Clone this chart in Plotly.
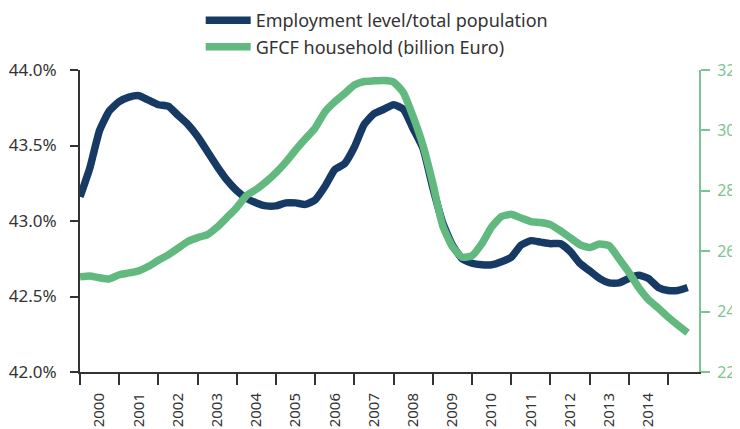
import plotly.graph_objects as go

# quarterly periods, 2000Q1 .. 2015Q3
start_year = 2000
n_quarters = 63
periods = [start_year + i * 0.25 for i in range(n_quarters)]

employment = [
    43.16, 43.35, 43.60, 43.73, 43.79, 43.82, 43.83, 43.80,
    43.77, 43.76, 43.70, 43.64, 43.56, 43.46, 43.36, 43.27,
    43.20, 43.15, 43.12, 43.10, 43.10, 43.12, 43.12, 43.11,
    43.14, 43.23, 43.34, 43.38, 43.49, 43.64, 43.71, 43.74,
    43.77, 43.74, 43.61, 43.48, 43.22, 42.99, 42.84, 42.75,
    42.72, 42.71, 42.71, 42.73, 42.76, 42.84, 42.87, 42.86,
    42.85, 42.85, 42.80, 42.72, 42.67, 42.62, 42.59, 42.59,
    42.62, 42.64, 42.62, 42.56, 42.54, 42.54, 42.56,
]

gfcf = [
    25.15, 25.18, 25.12, 25.08, 25.22, 25.28, 25.35, 25.50,
    25.70, 25.88, 26.10, 26.32, 26.45, 26.55, 26.80, 27.12,
    27.45, 27.85, 28.05, 28.30, 28.60, 28.95, 29.35, 29.72,
    30.08, 30.62, 30.95, 31.22, 31.50, 31.62, 31.64, 31.65,
    31.60, 31.25, 30.45, 29.50, 28.25, 26.85, 26.15, 25.80,
    25.85, 26.25, 26.80, 27.15, 27.22, 27.10, 26.98, 26.95,
    26.88, 26.68, 26.45, 26.22, 26.12, 26.24, 26.18, 25.75,
    25.30, 24.80, 24.40, 24.12, 23.82, 23.55, 23.30,
]

year_labels = [str(y) for y in range(2000, 2015)]
year_label_pos = [y + 0.5 for y in range(2000, 2015)]

left_ticks = [42.0, 42.5, 43.0, 43.5, 44.0]
left_labels = ["42.0%", "42.5%", "43.0%", "43.5%", "44.0%"]
right_ticks = [22, 24, 26, 28, 30, 32]
right_labels = ["22", "24", "26", "28", "30", "32"]

NAVY = "#173a64"
GREEN = "#62b97f"
AXIS_GREEN = "#7cc493"
DARK = "#333333"
FONT = "Noto Sans"

fig = go.Figure()
fig.add_trace(go.Scatter(
    x=periods, y=employment, name="Employment level/total population",
    mode="lines", line=dict(color=NAVY, width=7.5, shape="spline", smoothing=0.5),
    yaxis="y",
))
fig.add_trace(go.Scatter(
    x=periods, y=gfcf, name="GFCF household (billion Euro)",
    mode="lines", line=dict(color=GREEN, width=7.5, shape="spline", smoothing=0.5),
    yaxis="y2",
))

# the page body has an 8px default margin, so the figure is 8px smaller
fig.update_layout(
    width=732, height=421,
    margin=dict(l=72, r=41, t=62, b=57, autoexpand=False),
    paper_bgcolor="white", plot_bgcolor="white",
    font=dict(family=FONT, size=16, color=DARK),
    showlegend=True,
    legend=dict(
        x=0.195, y=1.225, xanchor="left", yanchor="top",
        orientation="v", font=dict(size=18, color=DARK),
        itemwidth=45,
        tracegroupgap=0, bgcolor="rgba(0,0,0,0)",
    ),
    xaxis=dict(
        range=[2000, 2015.79], automargin=False,
        tickmode="array", tickvals=year_label_pos, ticktext=year_labels,
        tickangle=-90, ticks="outside", ticklen=13, tickcolor="rgba(0,0,0,0)",
        tickfont=dict(size=15, color=DARK),
        showline=True, linecolor=DARK, linewidth=2,
        showgrid=False, zeroline=False,
        minor=dict(tick0=2000, dtick=1, ticks="outside", ticklen=11,
                   tickwidth=1.5, tickcolor=DARK, showgrid=False),
    ),
    yaxis=dict(
        range=[42, 44], automargin=False,
        tickmode="array", tickvals=left_ticks, ticktext=left_labels,
        ticks="outside", ticklen=8, tickwidth=2, tickcolor=DARK,
        ticklabelstandoff=10,
        showline=True, linecolor=DARK, linewidth=2,
        showgrid=False, zeroline=False,
        tickfont=dict(size=17, color=DARK),
    ),
    yaxis2=dict(
        range=[22, 32], automargin=False,
        tickmode="array", tickvals=right_ticks, ticktext=right_labels,
        overlaying="y", side="right",
        ticks="outside", ticklen=9, tickwidth=2, tickcolor=AXIS_GREEN,
        ticklabelstandoff=4,
        showline=True, linecolor=AXIS_GREEN, linewidth=2,
        showgrid=False, zeroline=False,
        tickfont=dict(size=16, color=AXIS_GREEN),
    ),
)

fig.write_html("out.html")
